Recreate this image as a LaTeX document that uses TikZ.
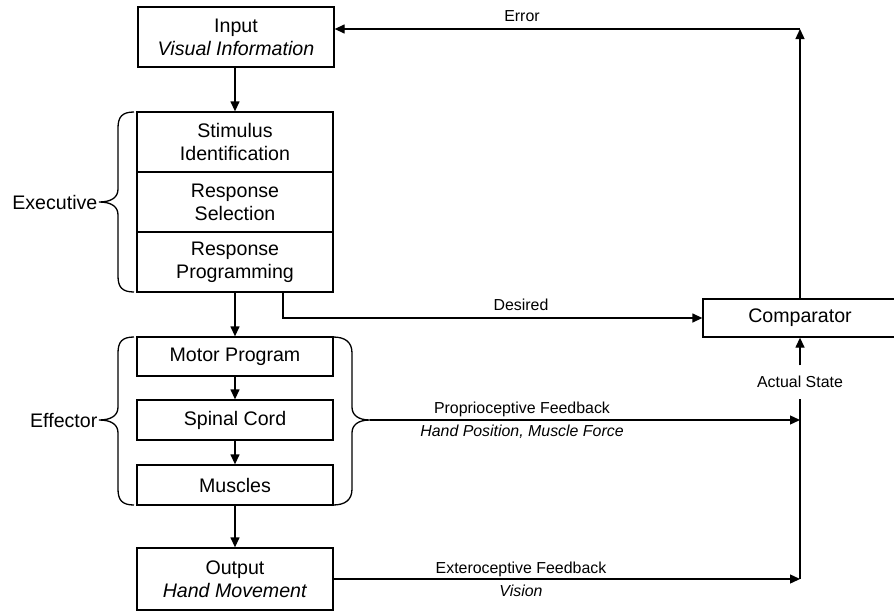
\documentclass[tikz,border=0pt]{standalone}
\usepackage{fontspec}
\setmainfont{Liberation Sans}
\usetikzlibrary{arrows.meta,calc}
\begin{document}
\begin{tikzpicture}[x=1pt,y=-1pt,
  line width=1.3pt,
  boxtext/.style={draw, line width=1.3pt, minimum width=196pt, inner sep=0pt, align=center,
     font=\fontsize{19.6}{22.8}\selectfont},
  lbl/.style={inner sep=1pt, font=\fontsize{15.9}{18}\selectfont},
  sidelbl/.style={inner sep=1pt, font=\fontsize{19.6}{22.8}\selectfont},
  arr/.style={-{Triangle[length=10pt,width=9pt]}},
  bracestyle/.style={line width=1.3pt}]
\useasboundingbox (0,0) rectangle (894,613);

% boxes
\node[boxtext, minimum height=60pt] (inp) at (236,37) {Input\\\textit{Visual Information}};
\node[boxtext, minimum height=60pt] (stim) at (235,142) {Stimulus\\Identification};
\node[boxtext, minimum height=60pt] (sel) at (235,202) {Response\\Selection};
\node[boxtext, minimum height=60pt] (prog) at (235,262) {Response\\Programming};
\node[boxtext, minimum height=39pt] (motor) at (235,356.5) {Motor Program};
\node[boxtext, minimum height=40pt] (spinal) at (235,420) {Spinal Cord};
\node[boxtext, minimum height=40pt] (musc) at (235,485) {Muscles};
\node[boxtext, minimum height=62pt] (outp) at (235,579) {Output\\\textit{Hand Movement}};
\node[boxtext, minimum width=194pt, minimum height=38pt] (comp) at (800,318) {Comparator};

% braces
\draw[bracestyle] (134,112) .. controls (122,112) and (118,117) .. (118,128) -- (118,189)
  .. controls (118,197) and (112,202) .. (99,202)
  .. controls (112,202) and (118,207) .. (118,215) -- (118,276)
  .. controls (118,287) and (122,292) .. (134,292);
\coordinate (exectip) at (99,202);
\node[sidelbl, anchor=east] (exec) at (exectip) {Executive};

\draw[bracestyle] (134,337) .. controls (122,337) and (118,342) .. (118,353) -- (118,407)
  .. controls (118,415) and (112,420) .. (99,420)
  .. controls (112,420) and (118,425) .. (118,433) -- (118,489)
  .. controls (118,500) and (122,505) .. (134,505);
\coordinate (efftip) at (99,420);
\node[sidelbl, anchor=east] (eff) at (efftip) {Effector};

\draw[bracestyle] (333,337) .. controls (345,337) and (352,342) .. (352,353) -- (352,407)
  .. controls (352,415) and (358,420) .. (370,420)
  .. controls (358,420) and (352,425) .. (352,433) -- (352,489)
  .. controls (352,500) and (345,505) .. (333,505);
\coordinate (rtip) at (370,420);

% vertical flow
\draw[arr] (inp.south -| stim.north) -- (stim.north);
\draw[arr] (prog.south) -- (motor.north);
\draw[arr] (motor.south) -- (spinal.north);
\draw[arr] (spinal.south) -- (musc.north);
\draw[arr] (musc.south) -- (outp.north);

% desired
\draw[arr] ([xshift=48pt]prog.south) |- (comp.west);
\node[lbl] (des) at (521,305) {Desired};

% error
\coordinate (errc) at (800,29);
\draw[arr] (comp.north) -- (errc);
\draw[arr] (errc) -- (inp.east |- errc);
\node[lbl] (err) at (522,16) {Error};

% proprioceptive
\coordinate (pf) at (rtip -| comp.south);
\draw[arr] (rtip) -- (pf);
\node[lbl] (prop1) at (522,409.5) {Proprioceptive Feedback};
\node[lbl] (prop2) at (522,432) {\textit{Hand Position, Muscle Force}};

% exteroceptive
\coordinate (ef) at (outp.east -| comp.south);
\draw[arr] (outp.east) -- (ef);
\node[lbl] (ext1) at (521,569.5) {Exteroceptive Feedback};
\node[lbl] (ext2) at (521,591) {\textit{Vision}};

% actual state
\node[lbl, minimum height=32pt, inner sep=0pt] (act) at (800,382) {Actual State};
\draw (ef) -- (act.south);
\draw[arr] (act.north) -- (comp.south);
\end{tikzpicture}
\end{document}
